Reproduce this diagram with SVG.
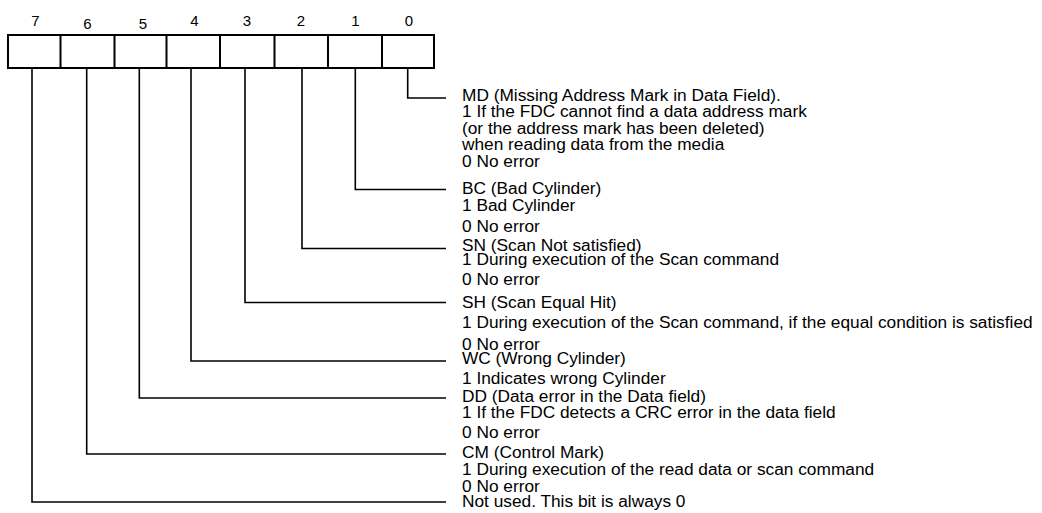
<svg xmlns="http://www.w3.org/2000/svg" width="1042" height="513" viewBox="0 0 1042 513">
<style>
  .box { fill: #ffffff; stroke: #000000; stroke-width: 2; }
  .div { stroke: #000000; stroke-width: 2; }
  .conn { fill: none; stroke: #000000; stroke-width: 1.6; }
  .num { font-family: "Liberation Sans", Arial, sans-serif; font-size: 15px; fill: #000000; text-anchor: middle; }
  .t { font-family: "Liberation Sans", Arial, sans-serif; font-size: 17.3px; fill: #000000; }
</style>
<rect width="1042" height="513" fill="#ffffff"/>
<g id="register">
  <rect class="box" x="8" y="35" width="426" height="33"/>
  <line class="div" x1="60.5" y1="35" x2="60.5" y2="68"/>
  <line class="div" x1="114.5" y1="35" x2="114.5" y2="68"/>
  <line class="div" x1="166.5" y1="35" x2="166.5" y2="68"/>
  <line class="div" x1="220" y1="35" x2="220" y2="68"/>
  <line class="div" x1="274.5" y1="35" x2="274.5" y2="68"/>
  <line class="div" x1="328" y1="35" x2="328" y2="68"/>
  <line class="div" x1="382" y1="35" x2="382" y2="68"/>
</g>
<g id="bit-numbers">
  <text class="num" x="35.5" y="25.5">7</text>
  <text class="num" x="87.5" y="28.5">6</text>
  <text class="num" x="143" y="28.5">5</text>
  <text class="num" x="194.5" y="25.5">4</text>
  <text class="num" x="247" y="26">3</text>
  <text class="num" x="301" y="26">2</text>
  <text class="num" x="355.5" y="25.5">1</text>
  <text class="num" x="409" y="25.5">0</text>
</g>
<g id="connectors">
  <polyline class="conn" points="407.7,68 407.7,98 446,98"/>
  <polyline class="conn" points="355.3,68 355.3,189.5 446,189.5"/>
  <polyline class="conn" points="302,68 302,248.5 446,248.5"/>
  <polyline class="conn" points="245,68 245,302.5 446,302.5"/>
  <polyline class="conn" points="191,68 191,361 446,361"/>
  <polyline class="conn" points="139.3,68 139.3,398 446,398"/>
  <polyline class="conn" points="86.7,68 86.7,454 446,454"/>
  <polyline class="conn" points="32,68 32,502 446,502"/>
</g>
<g id="bit0-md">
  <text class="t" x="462" y="100.5">MD (Missing Address Mark in Data Field).</text>
  <text class="t" x="462" y="117">1 If the FDC cannot find a data address mark</text>
  <text class="t" x="462" y="133.5">(or the address mark has been deleted)</text>
  <text class="t" x="462" y="150">when reading data from the media</text>
  <text class="t" x="462" y="166.5">0 No error</text>
</g>
<g id="bit1-bc">
  <text class="t" x="462" y="194">BC (Bad Cylinder)</text>
  <text class="t" x="462" y="211">1 Bad Cylinder</text>
  <text class="t" x="462" y="232">0 No error</text>
</g>
<g id="bit2-sn">
  <text class="t" x="462" y="251">SN (Scan Not satisfied)</text>
  <text class="t" x="462" y="265">1 During execution of the Scan command</text>
  <text class="t" x="462" y="285">0 No error</text>
</g>
<g id="bit3-sh">
  <text class="t" x="462" y="308">SH (Scan Equal Hit)</text>
  <text class="t" x="462" y="328">1 During execution of the Scan command, if the equal condition is satisfied</text>
  <text class="t" x="462" y="350">0 No error</text>
</g>
<g id="bit4-wc">
  <text class="t" x="462" y="364">WC (Wrong Cylinder)</text>
  <text class="t" x="462" y="384">1 Indicates wrong Cylinder</text>
</g>
<g id="bit5-dd">
  <text class="t" x="462" y="402">DD (Data error in the Data field)</text>
  <text class="t" x="462" y="418">1 If the FDC detects a CRC error in the data field</text>
  <text class="t" x="462" y="438">0 No error</text>
</g>
<g id="bit6-cm">
  <text class="t" x="462" y="458">CM (Control Mark)</text>
  <text class="t" x="462" y="475">1 During execution of the read data or scan command</text>
  <text class="t" x="462" y="492">0 No error</text>
</g>
<g id="bit7-unused">
  <text class="t" x="462" y="507">Not used. This bit is always 0</text>
</g>
</svg>
